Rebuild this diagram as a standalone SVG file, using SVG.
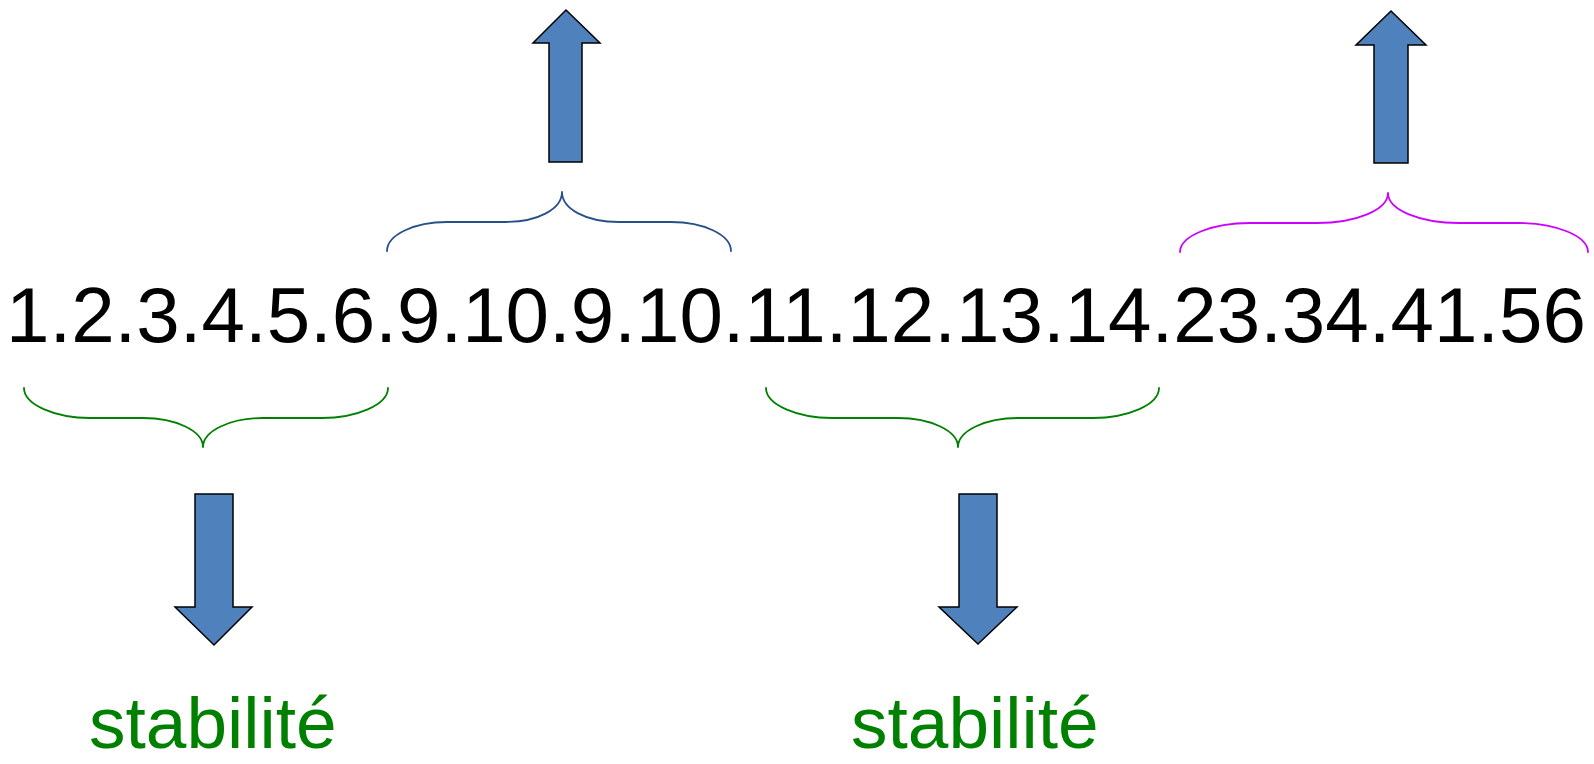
<svg xmlns="http://www.w3.org/2000/svg" width="1594" height="764" viewBox="0 0 1594 764">
  <style>
    .arrow { fill: #4F81BD; stroke: #000000; stroke-width: 1.5; stroke-linejoin: miter; }
    .brace { fill: none; stroke-width: 1.8; stroke-linecap: round; stroke-linejoin: round; }
    .seq { font-family: "Liberation Sans", Arial, sans-serif; font-size: 77px; fill: #000000; }
    .label { font-family: "Liberation Sans", Arial, sans-serif; font-size: 73px; fill: #008000; }
  </style>
  <rect width="1594" height="764" fill="#ffffff"/>

  <g id="sequence">
    <text class="seq" x="6" y="342" textLength="1580" lengthAdjust="spacingAndGlyphs">1.2.3.4.5.6.9.10.9.10.11.12.13.14.23.34.41.56</text>
  </g>

  <g id="connectors">
    <g id="brace-blue">
      <path class="brace" stroke="#27508A" d="M387,251 C387,235 414,222 447,222 L505,222 C538,222 562,209 562,192 C562,209 586,222 619,222 L671,222 C704,222 731,235 731,251"/>
    </g>
    <g id="brace-magenta">
      <path class="brace" stroke="#CC00FF" d="M1180,252 C1180,236 1212,223 1250,223 L1317,223 C1356,223 1388,210 1388,193 C1388,210 1420,223 1459,223 L1518,223 C1556,223 1588,236 1588,252"/>
    </g>
    <g id="brace-green-1">
      <path class="brace" stroke="#008000" d="M24,388 C24,405 56,418 90,418 L143,418 C176,418 203,431 203,447 C203,431 230,418 263,418 L322,418 C356,418 388,405 388,388"/>
    </g>
    <g id="brace-green-2">
      <path class="brace" stroke="#008000" d="M766,388 C766,405 798,418 832,418 L898,418 C931,418 958,431 958,447 C958,431 985,418 1018,418 L1093,418 C1127,418 1159,405 1159,388"/>
    </g>

    <g id="arrow-up-1">
      <polygon class="arrow" points="566,10 600,43 582,43 582,162 549,162 549,43 533,43"/>
    </g>
    <g id="arrow-up-2">
      <polygon class="arrow" points="1391,11 1426,45 1408,45 1408,163 1374,163 1374,45 1356,45"/>
    </g>
    <g id="arrow-down-1">
      <polygon class="arrow" points="195,494 233,494 233,607 252,607 214,645 175,607 195,607"/>
    </g>
    <g id="arrow-down-2">
      <polygon class="arrow" points="959,494 997,494 997,607 1017,607 978,644 939,607 959,607"/>
    </g>
  </g>

  <g id="label-stabilite-1">
    <text class="label" x="89" y="748">stabilité</text>
  </g>
  <g id="label-stabilite-2">
    <text class="label" x="851" y="748">stabilité</text>
  </g>
</svg>
